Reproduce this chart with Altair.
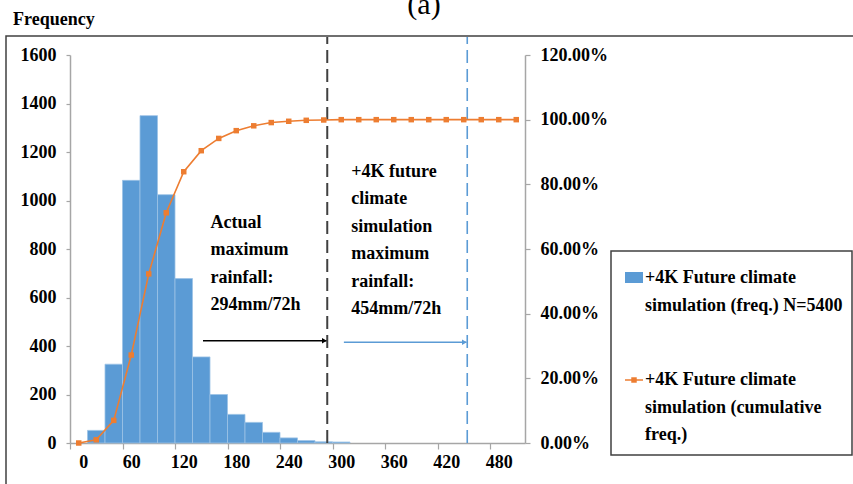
import altair as alt
import pandas as pd

# ---- data ----
bin_start = [0, 20, 40, 60, 80, 100, 120, 140, 160, 180, 200, 220, 240,
             260, 280, 300, 320, 340, 360, 380, 400, 420, 440, 460, 480, 500]
freq = [0, 52, 325, 1083, 1350, 1024, 678, 355, 200, 118, 85, 44, 21,
        10, 5, 4, 0, 0, 0, 0, 0, 0, 0, 0, 0, 0]
cum_pct = [0.0, 0.010, 0.070, 0.272, 0.523, 0.712, 0.839, 0.904, 0.942, 0.966,
           0.981, 0.991, 0.995, 0.998, 0.999, 1.0, 1.0, 1.0, 1.0, 1.0, 1.0,
           1.0, 1.0, 1.0, 1.0, 1.0]
x_tick_values = [0, 60, 120, 180, 240, 300, 360, 420, 480]
left_ticks = [0, 200, 400, 600, 800, 1000, 1200, 1400, 1600]
right_ticks = [0.0, 0.2, 0.4, 0.6, 0.8, 1.0, 1.2]
actual_max = 294
future_max = 454
text_actual = "Actual\nmaximum\nrainfall:\n294mm/72h"
text_future = "+4K future\nclimate\nsimulation\nmaximum\nrainfall:\n454mm/72h"
legend_labels = ["+4K Future climate\nsimulation (freq.) N=5400",
                 "+4K Future climate\nsimulation (cumulative\nfreq.)"]

BLUE = "#5B9BD5"
ORANGE = "#ED7D31"
FONT = "Liberation Serif"

W, H = 455, 388

df = pd.DataFrame({
    "start": bin_start,
    "end": [s + 20 for s in bin_start],
    "center": [s + 10 for s in bin_start],
    "freq": freq,
    "cum": cum_pct,
})

xscale = alt.Scale(domain=[0, 520], nice=False, zero=False)
ylscale = alt.Scale(domain=[0, 1600], nice=False)
yrscale = alt.Scale(domain=[0, 1.2], nice=False)

bars = alt.Chart(df).transform_filter("datum.freq > 0").transform_calculate(
    base="0"
).mark_rect(
    color=BLUE, stroke="#9dc3e6", strokeWidth=0.8
).encode(
    x=alt.X("start:Q", scale=xscale,
            axis=alt.Axis(values=x_tick_values, title=None, labelOffset=8.75,
                          tickSize=6, labelPadding=4)),
    x2="end:Q",
    y=alt.Y("freq:Q", scale=ylscale,
            axis=alt.Axis(values=left_ticks, title=None, tickSize=4,
                          labelPadding=10, format="d")),
    y2="base:Q",
)

rules_df = pd.DataFrame({"x": [actual_max, future_max], "y0": [0, 0],
                         "kind": ["actual", "future"]})
rule_black = alt.Chart(rules_df).transform_filter("datum.kind == 'actual'").mark_rule(
    color="#404040", strokeWidth=2, strokeDash=[13, 6]
).encode(x=alt.X("x:Q", scale=xscale), y=alt.Y("y0:Q", scale=ylscale),
         y2=alt.value(-18))
rule_blue = alt.Chart(rules_df).transform_filter("datum.kind == 'future'").mark_rule(
    color=BLUE, strokeWidth=1.6, strokeDash=[13, 6]
).encode(x=alt.X("x:Q", scale=xscale), y=alt.Y("y0:Q", scale=ylscale),
         y2=alt.value(-18))

arrows_df = pd.DataFrame({
    "x1": [152, 313], "x2": [actual_max - 1, future_max - 1],
    "y": [422, 415], "kind": ["actual", "future"],
})
arrow_black = alt.Chart(arrows_df).transform_filter("datum.kind == 'actual'").mark_rule(
    color="black", strokeWidth=1.5
).encode(x=alt.X("x1:Q", scale=xscale), x2="x2:Q", y=alt.Y("y:Q", scale=ylscale))
arrow_blue = alt.Chart(arrows_df).transform_filter("datum.kind == 'future'").mark_rule(
    color=BLUE, strokeWidth=1.5
).encode(x=alt.X("x1:Q", scale=xscale), x2="x2:Q", y=alt.Y("y:Q", scale=ylscale))
head_black = alt.Chart(arrows_df).transform_filter("datum.kind == 'actual'").mark_point(
    shape="triangle-right", filled=True, color="black", size=30, opacity=1, xOffset=-2
).encode(x=alt.X("x2:Q", scale=xscale), y=alt.Y("y:Q", scale=ylscale))
head_blue = alt.Chart(arrows_df).transform_filter("datum.kind == 'future'").mark_point(
    shape="triangle-right", filled=True, color=BLUE, size=30, opacity=1, xOffset=-2
).encode(x=alt.X("x2:Q", scale=xscale), y=alt.Y("y:Q", scale=ylscale))

# y = position of the first text line (frequency units)
ann_df = pd.DataFrame({"x": [160.5, 321.5], "y": [908, 1119],
                       "t": [text_actual, text_future]})
annotations = alt.Chart(ann_df).mark_text(
    align="left", baseline="middle", lineBreak="\n", lineHeight=27.5,
    font=FONT, fontWeight="bold", fontSize=18, color="black"
).encode(x=alt.X("x:Q", scale=xscale), y=alt.Y("y:Q", scale=ylscale), text="t:N")

one = pd.DataFrame({"a": [0]})

frame = alt.Chart(one).mark_rect(fill=None, stroke="#404040", strokeWidth=1.5).encode(
    x=alt.value(-64), x2=alt.value(800), y=alt.value(-19), y2=alt.value(460))

freq_title = alt.Chart(one).mark_text(
    text="Frequency", align="left", baseline="middle", font=FONT,
    fontWeight="bold", fontSize=18, color="black"
).encode(x=alt.value(-57), y=alt.value(-35))

panel_title = alt.Chart(one).mark_text(
    text="(a)", align="center", baseline="alphabetic", font=FONT,
    fontSize=30, color="black"
).encode(x=alt.value(354), y=alt.value(-41))

# legend (drawn by hand to reproduce the box layout)
legend_box = alt.Chart(one).mark_rect(fill="white", stroke="#404040", strokeWidth=1.5).encode(
    x=alt.value(541), x2=alt.value(782), y=alt.value(196), y2=alt.value(400))
legend_swatch = alt.Chart(one).mark_rect(color=BLUE).encode(
    x=alt.value(555), x2=alt.value(573), y=alt.value(217), y2=alt.value(228))
legend_line = alt.Chart(one).mark_rule(color=ORANGE, strokeWidth=1.5).encode(
    x=alt.value(555), x2=alt.value(573), y=alt.value(325))
legend_marker = alt.Chart(one).mark_point(
    shape="square", filled=True, color=ORANGE, size=30, opacity=1
).encode(x=alt.value(564), y=alt.value(325))
leg_df = pd.DataFrame({"t": legend_labels, "py": [223, 325]})
legend_text = alt.Chart(leg_df).mark_text(
    align="left", baseline="middle", lineBreak="\n", lineHeight=27.5,
    font=FONT, fontWeight="bold", fontSize=18, color="black"
).encode(x=alt.value(575), y=alt.Y("py:Q", scale=None), text="t:N")

left = alt.layer(
    frame, bars, rule_black, rule_blue, arrow_black, arrow_blue,
    head_black, head_blue, annotations, freq_title, panel_title,
    legend_box, legend_swatch, legend_line, legend_marker, legend_text,
)

cum_line = alt.Chart(df).mark_line(color=ORANGE, strokeWidth=1.6).encode(
    x=alt.X("center:Q", scale=xscale),
    y=alt.Y("cum:Q", scale=yrscale,
            axis=alt.Axis(orient="right", values=right_ticks, format=".2%",
                          title=None, tickSize=5, labelPadding=10)),
)
cum_pts = alt.Chart(df).mark_point(
    shape="square", filled=True, color=ORANGE, size=30, opacity=1
).encode(x=alt.X("center:Q", scale=xscale), y=alt.Y("cum:Q", scale=yrscale))
right = alt.layer(cum_line, cum_pts)

chart = alt.layer(left, right).resolve_scale(y="independent").properties(
    width=W, height=H,
    autosize=alt.AutoSizeParams(type="none"),
    padding={"left": 70, "top": 55, "right": 853 - 70 - W, "bottom": 484 - 55 - H},
    background="white",
).configure_view(stroke=None).configure_axis(
    labelFont=FONT, labelFontWeight="bold", labelFontSize=18, labelColor="black",
    domainColor="#a6a6a6", tickColor="#a6a6a6", domainWidth=1.5, tickWidth=1.2,
    grid=False,
)

chart.save("out.html", embed_options={"renderer": "svg", "actions": False})
